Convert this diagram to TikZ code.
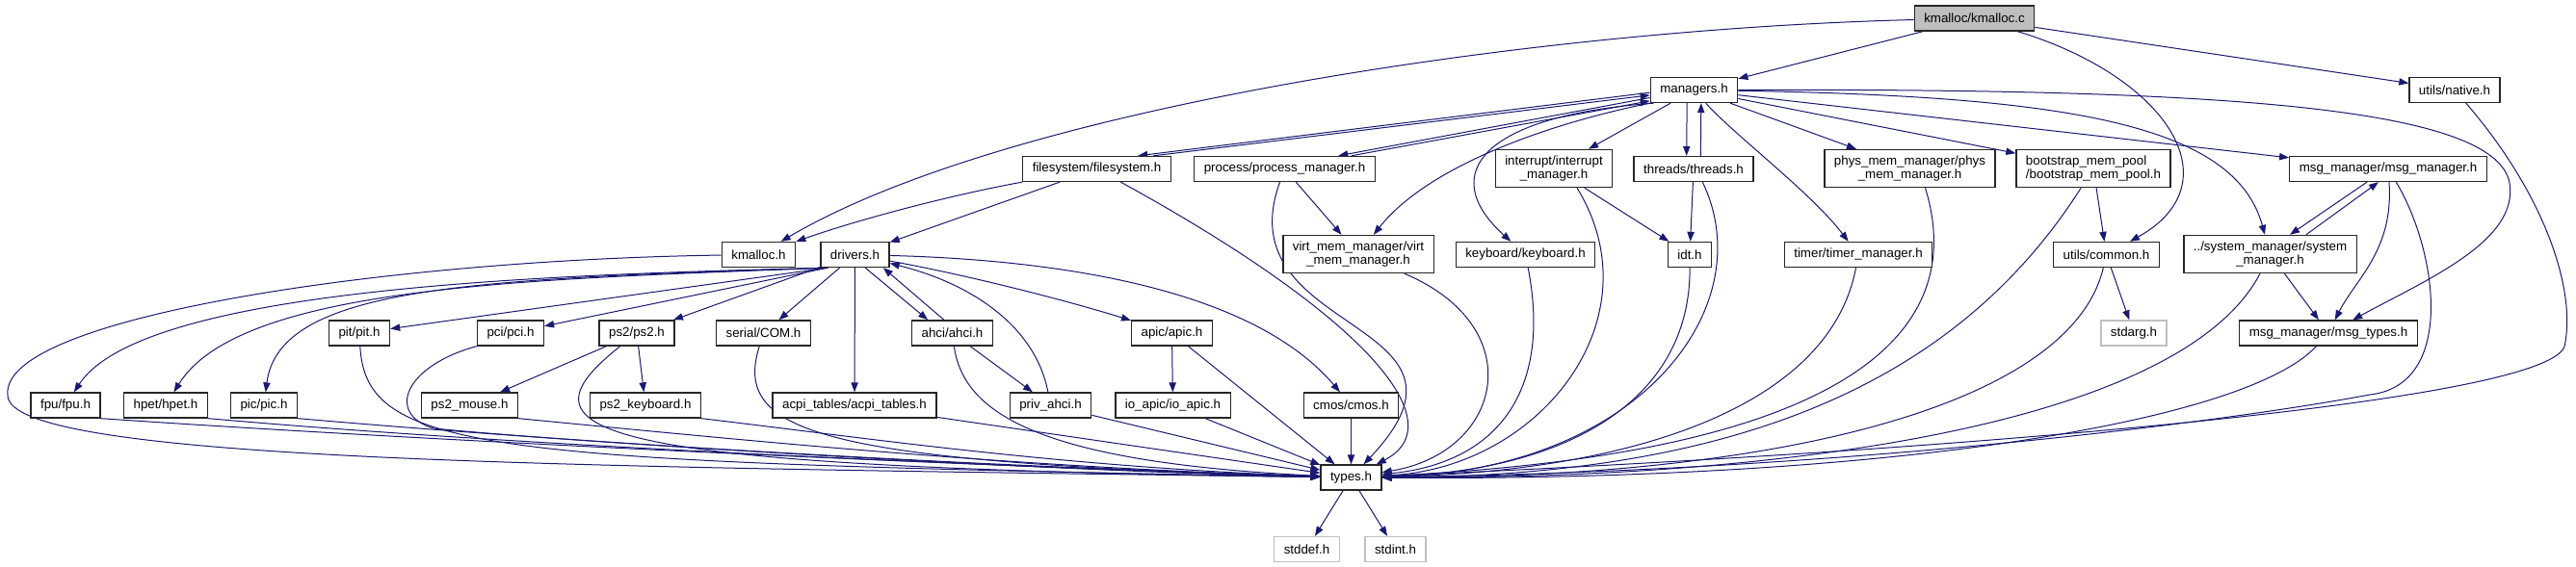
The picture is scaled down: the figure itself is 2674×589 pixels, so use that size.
\documentclass[tikz,border=0pt]{standalone}
\usepackage{fontspec}
\setmainfont{Liberation Sans}
\usepackage{xcolor}
\usepackage{tikz}
\usetikzlibrary{arrows.meta, calc, backgrounds}
\definecolor{depblue}{HTML}{191970}
\definecolor{sysgray}{HTML}{BFBFBF}

\begin{document}
\begin{tikzpicture}[x=0.75pt, y=-0.75pt,
    hdr/.style={draw=black!85, line width=1pt, fill=white, inner xsep=7.5pt, inner ysep=4.5pt, minimum height=19.5pt, align=center, font=\fontsize{10}{11}\selectfont},
    sys/.style={hdr, draw=sysgray},
    src/.style={hdr, fill=sysgray},
    dep/.style={draw=depblue, line width=0.75pt, -{Triangle[length=7.5pt, width=5.5pt]}}]
    \useasboundingbox (0,0) rectangle (2674,589);

    % files
    \node[src] (kmc) at (2049.5,19) {kmalloc/kmalloc.c};
    \node[hdr] (mgr) at (1758.5,93.5) {managers.h};
    \node[hdr] (native) at (2548,93.5) {utils/native.h};
    \node[hdr] (fs) at (1138.5,175.5) {filesystem/filesystem.h};
    \node[hdr] (proc) at (1333.5,175.5) {process/process\_manager.h};
    \node[hdr] (intr) at (1613,175) {interrupt/interrupt\\\_manager.h};
    \node[hdr] (thr) at (1758,175.5) {threads/threads.h};
    \node[hdr] (phys) at (1982.5,175) {phys\_mem\_manager/phys\\\_mem\_manager.h};
    \node[hdr, align=left] (boot) at (2173,175) {bootstrap\_mem\_pool\\/bootstrap\_mem\_pool.h};
    \node[hdr] (msgm) at (2479,175.5) {msg\_manager/msg\_manager.h};
    \node[hdr] (kmh) at (787.5,264.5) {kmalloc.h};
    \node[hdr] (drv) at (887.5,264.5) {drivers.h};
    \node[hdr] (virt) at (1410,264) {virt\_mem\_manager/virt\\\_mem\_manager.h};
    \node[hdr] (kbd) at (1583.5,264.5) {keyboard/keyboard.h};
    \node[hdr] (idt) at (1754,264.5) {idt.h};
    \node[hdr] (timer) at (1929,264.5) {timer/timer\_manager.h};
    \node[hdr] (common) at (2186.5,264.5) {utils/common.h};
    \node[hdr] (sysm) at (2356.5,264) {../system\_manager/system\\\_manager.h};
    \node[hdr] (pit) at (373,346) {pit/pit.h};
    \node[hdr] (pci) at (530,346) {pci/pci.h};
    \node[hdr] (ps2) at (661,346) {ps2/ps2.h};
    \node[hdr] (com) at (792.5,346) {serial/COM.h};
    \node[hdr] (ahci) at (988.5,346) {ahci/ahci.h};
    \node[hdr] (apic) at (1216.5,346) {apic/apic.h};
    \node[sys] (stdarg) at (2215,346) {stdarg.h};
    \node[hdr] (msgt) at (2417,346) {msg\_manager/msg\_types.h};
    \node[hdr] (fpu) at (68,421) {fpu/fpu.h};
    \node[hdr] (hpet) at (172,421) {hpet/hpet.h};
    \node[hdr] (pic) at (274,421) {pic/pic.h};
    \node[hdr] (mouse) at (487.5,421) {ps2\_mouse.h};
    \node[hdr] (ps2kbd) at (670,421) {ps2\_keyboard.h};
    \node[hdr] (acpi) at (887,421) {acpi\_tables/acpi\_tables.h};
    \node[hdr] (priv) at (1090.5,421) {priv\_ahci.h};
    \node[hdr] (ioapic) at (1217.5,421) {io\_apic/io\_apic.h};
    \node[hdr] (cmos) at (1402.5,421) {cmos/cmos.h};
    \node[hdr] (types) at (1402.5,496) {types.h};
    \node[sys] (stddef) at (1356.5,570.5) {stddef.h};
    \node[sys] (stdint) at (1448.5,570.5) {stdint.h};

    \begin{pgfonlayer}{background}
    % kmalloc.c
    \draw[dep] (kmc) -- (mgr);
    \draw[dep] (kmc) .. controls (1600,30) and (1050,110) .. (kmh);
    \draw[dep] (kmc) .. controls (2250,80) and (2320,190) .. (common);
    \draw[dep] (kmc) -- (native);

    % managers.h
    \draw[dep] ([yshift=-2pt]mgr.west) -- ([xshift=-26pt]fs.north east);
    \draw[dep] ([xshift=-14pt]fs.north east) -- ([yshift=-4pt]mgr.west);
    \draw[dep] ([yshift=-6pt]mgr.west) -- ([xshift=-29pt]proc.north east);
    \draw[dep] ([xshift=-19pt]proc.north east) -- ([yshift=-8.5pt]mgr.west);
    \draw[dep] (mgr.south west) .. controls (1600,130) and (1480,175) .. (virt);
    \draw[dep] ([xshift=3pt]mgr.south west) .. controls (1540,120) and (1490,180) .. (kbd);
    \draw[dep] (mgr) -- (intr);
    \draw[dep] ([xshift=-5.5pt]mgr.south) -- ([xshift=-5.5pt]thr.north);
    \draw[dep] ([xshift=5.5pt]thr.north) -- ([xshift=5.5pt]mgr.south);
    \draw[dep] (mgr) .. controls (1800,140) and (1880,200) .. (timer);
    \draw[dep] (mgr) -- (phys);
    \draw[dep] (mgr) -- (boot);
    \draw[dep] (mgr) -- (msgm);
    \draw[dep] (mgr) .. controls (2150,100) and (2320,130) .. (sysm);
    \draw[dep] (mgr) .. controls (2300,92) and (2590,110) .. (2605,190) .. controls (2615,250) and (2520,290) .. (msgt);

    % second row
    \draw[dep] (fs) .. controls (1000,200) and (900,225) .. (kmh);
    \draw[dep] (fs) -- (drv);
    \draw[dep] (fs) .. controls (1420,330) and (1510,440) .. (types);
    \draw[dep] (proc) -- (virt);
    \draw[dep] (proc) .. controls (1270,350) and (1560,330) .. (types);
    \draw[dep] (intr) -- (idt);
    \draw[dep] ([xshift=18pt]intr.south) .. controls (1720,330) and (1600,485) .. (types);
    \draw[dep] (thr) -- (idt);
    \draw[dep] ([xshift=7pt]thr.south) .. controls (1830,320) and (1700,490) .. (types);
    \draw[dep] ([xshift=12pt]phys.south) .. controls (2040,330) and (1950,470) .. (types);
    \draw[dep] (boot) -- (common);
    \draw[dep] (boot) .. controls (2030,400) and (1800,495) .. (types);
    \draw[dep] ([xshift=-16.5pt]msgm.south) -- ([xshift=15.4pt]sysm.north);
    \draw[dep] ([xshift=28pt]sysm.north) -- ([xshift=-7.5pt]msgm.south);
    \draw[dep] (msgm) .. controls (2485,260) and (2445,290) .. (msgt);
    \draw[dep] (msgm) .. controls (2530,260) and (2550,400) .. (2460,410) .. controls (2300,440) and (1900,490) .. (types);
    \draw[dep] (native) .. controls (2640,200) and (2675,300) .. (2662,360) .. controls (2640,420) and (2000,470) .. (types);

    % third row
    \draw[dep] (kmh) .. controls (400,270) and (0,330) .. (8,410) .. controls (5,480) and (600,485) .. (types);
    \draw[dep] (virt) .. controls (1590,340) and (1560,470) .. (types);
    \draw[dep] (kbd) .. controls (1610,400) and (1560,480) .. (types);
    \draw[dep] (idt) .. controls (1755,420) and (1620,490) .. (types);
    \draw[dep] (timer) .. controls (1900,420) and (1700,490) .. (types);
    \draw[dep] (common) -- (stdarg);
    \draw[dep] (common) .. controls (2150,420) and (1850,497) .. (types);
    \draw[dep] (sysm) -- (msgt);
    \draw[dep] (sysm) .. controls (2270,430) and (1900,498) .. (types);

    % drivers.h
    \draw[dep] ([xshift=6pt]drv.south west) .. controls (600,285) and (150,295) .. (fpu);
    \draw[dep] ([xshift=6pt]drv.south west) .. controls (560,290) and (250,295) .. (hpet);
    \draw[dep] ([xshift=6pt]drv.south west) .. controls (500,290) and (290,295) .. (pic);
    \draw[dep] ([xshift=6pt]drv.south west) -- (pit);
    \draw[dep] ([xshift=6pt]drv.south west) -- (pci);
    \draw[dep] (drv) -- (ps2);
    \draw[dep] (drv) -- (com);
    \draw[dep] (drv) -- (acpi);
    \draw[dep] ([xshift=8pt]drv.south) -- ([xshift=-19pt]ahci.north);
    \draw[dep] ([xshift=-6.4pt]ahci.north) -- ([xshift=22pt]drv.south);
    \draw[dep] (priv) .. controls (1075,340) and (1010,295) .. (drv);
    \draw[dep] (drv) .. controls (1000,285) and (1100,310) .. (apic);
    \draw[dep] (drv) .. controls (1100,270) and (1300,300) .. (cmos);

    % fourth row
    \draw[dep] (pit) .. controls (380,470) and (500,480) .. (types);
    \draw[dep] (pci.south west) .. controls (420,380) and (400,430) .. (450,445) .. controls (600,460) and (1100,490) .. (types);
    \draw[dep] (ps2) -- (mouse);
    \draw[dep] (ps2) -- (ps2kbd);
    \draw[dep] (ps2) .. controls (530,450) and (600,485) .. (types);
    \draw[dep] (com) .. controls (760,450) and (850,480) .. (types);
    \draw[dep] (ahci) -- (priv);
    \draw[dep] (ahci) .. controls (1000,430) and (1080,480) .. (types);
    \draw[dep] (apic) -- (ioapic);
    \draw[dep] (apic) -- (types);
    \draw[dep] (msgt) .. controls (2330,440) and (1950,500) .. (types);

    % into types.h
    \draw[dep] (fpu.south east) .. controls (400,455) and (900,480) .. (types);
    \draw[dep] (hpet.south east) .. controls (500,460) and (950,482) .. (types);
    \draw[dep] (pic.south east) .. controls (600,460) and (1000,484) .. (types);
    \draw[dep] (mouse.south east) .. controls (800,460) and (1050,485) .. (types);
    \draw[dep] (ps2kbd.south east) .. controls (900,455) and (1100,485) .. (types);
    \draw[dep] (acpi) -- (types);
    \draw[dep] (priv) -- (types);
    \draw[dep] (ioapic) -- (types);
    \draw[dep] (cmos) -- (types);
    \draw[dep] (types) -- (stddef);
    \draw[dep] (types) -- (stdint);
    \end{pgfonlayer}
\end{tikzpicture}
\end{document}
